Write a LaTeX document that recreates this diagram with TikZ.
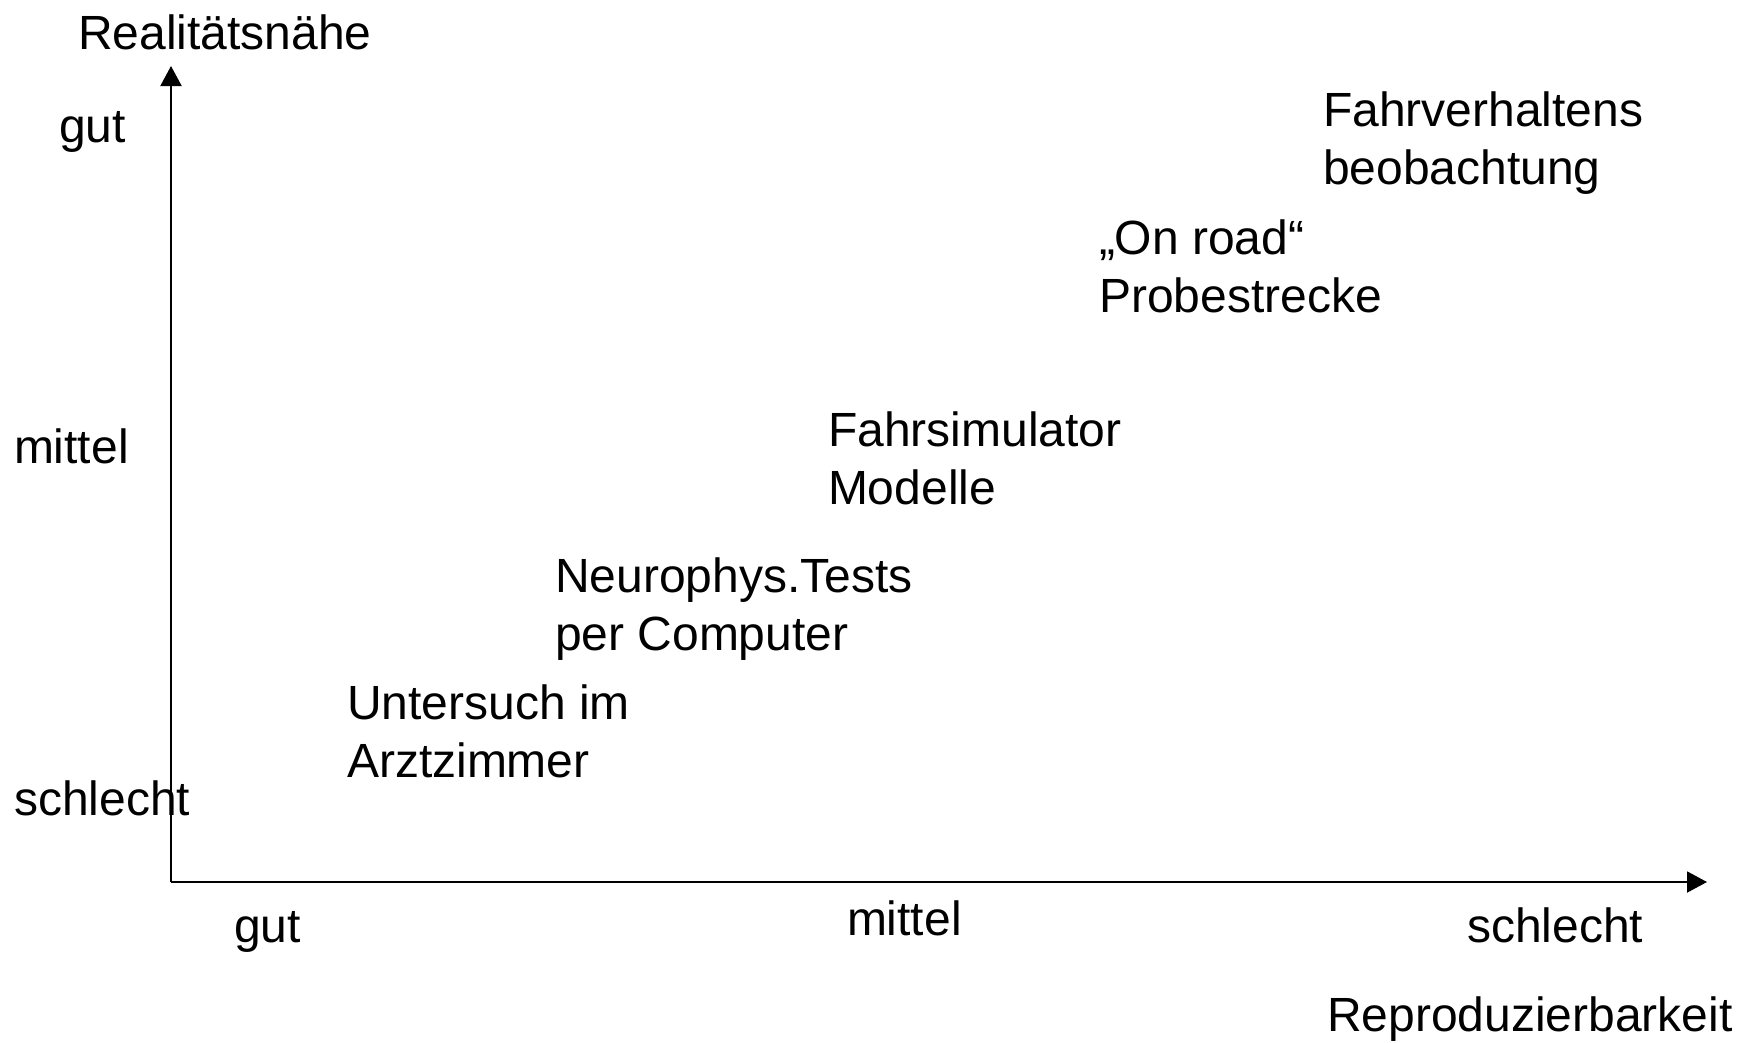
\documentclass[tikz,border=0pt]{standalone}
\usepackage{fontspec}
\setmainfont{Liberation Sans}
\usetikzlibrary{arrows.meta}
\tikzset{
  lbl/.style={anchor=base west, inner sep=0pt, outer sep=0pt, align=left,
    font=\fontsize{48}{57.8}\selectfont},
  axis/.style={line width=2pt, -{Triangle[length=20pt,width=21pt]}}
}
\begin{document}
\begin{tikzpicture}[x=1pt,y=-1pt]
\useasboundingbox (0,0) rectangle (1742,1042);
% axes
\coordinate (O) at (171,882);
\coordinate (ytip) at (171,66);
\coordinate (xtip) at (1707,882);
\draw[axis] (O) -- (ytip);
\draw[axis] (O) -- (xtip);
% axis titles
\node[lbl] (ytitle) at (78,49) {Realitätsnähe};
\node[lbl] (xtitle) at (1327,1031) {Reproduzierbarkeit};
% vertical scale
\node[lbl] (ygut) at (59,142) {gut};
\node[lbl] (ymittel) at (14,463) {mittel};
\node[lbl] (yschlecht) at (14,815) {schlecht};
% horizontal scale
\node[lbl] (xgut) at (234,942) {gut};
\node[lbl] (xmittel) at (847,935) {mittel};
\node[lbl] (xschlecht) at (1467,942) {schlecht};
% methods (two-line labels, placed by the baseline of their last line)
\node[lbl] (fahrv) at (1323,184) {Fahrverhaltens\\beobachtung};
\node[lbl] (onroad) at (1099,312) {„On road“\\Probestrecke};
\node[lbl] (sim) at (828,504) {Fahrsimulator\\Modelle};
\node[lbl] (neuro) at (555,650) {Neurophys.Tests\\per Computer};
\node[lbl] (arzt) at (347,777) {Untersuch im\\Arztzimmer};
\end{tikzpicture}
\end{document}
